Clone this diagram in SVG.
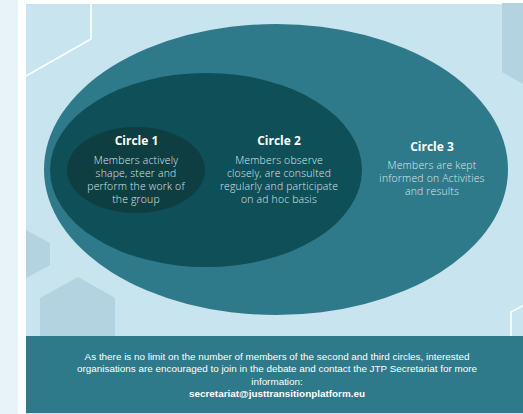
<svg xmlns="http://www.w3.org/2000/svg" width="523" height="414" viewBox="0 0 523 414">
<style>
.title{font-family:"Open Sans","Noto Sans",sans-serif;font-weight:700;font-size:12px;fill:#ffffff;text-anchor:middle}
.body{font-family:"Open Sans","Noto Sans",sans-serif;font-weight:300;font-size:10.4px;letter-spacing:0.2px;fill:#dfe8ea;text-anchor:middle}
.foot{font-family:"Liberation Sans",Arial,sans-serif;font-size:9.9px;fill:#ffffff;text-anchor:middle}
.hexfill{fill:#b2d3df}
.hexline{fill:none;stroke:#ffffff;stroke-width:1.5}
</style>
<rect x="0" y="0" width="523" height="414" fill="#ffffff"/>
<rect x="0" y="0" width="18" height="414" fill="#e8f3f9"/>
<g id="background">
<rect x="26" y="4" width="497" height="410" fill="#c8e4ee"/>
<path class="hexline" d="M91,4 V39 L26,76"/>
<path class="hexfill" d="M502,3 H523 V84 L502,72 Z"/>
<path class="hexfill" d="M26,230 L50,243 V265 L26,278 Z"/>
<path class="hexfill" d="M78,277 L115,298 V336 H40 V298 Z"/>
<path class="hexline" d="M511,336 V312 L524,305"/>
</g>
<g id="circle3">
<ellipse cx="276" cy="169.5" rx="232" ry="145.5" fill="#2e7a8a"/>
<text class="title" x="432" y="151">Circle 3</text>
<text class="body" x="432" y="169">Members are kept</text>
<text class="body" x="432" y="182">informed on Activities</text>
<text class="body" x="432" y="195">and results</text>
</g>
<g id="circle2">
<ellipse cx="206" cy="170" rx="156" ry="97" fill="#0f4f57"/>
<text class="title" x="279" y="145">Circle 2</text>
<text class="body" x="279" y="163.5">Members observe</text>
<text class="body" x="279" y="176.5">closely, are consulted</text>
<text class="body" x="279" y="189.5">regularly and participate</text>
<text class="body" x="279" y="202.5">on ad hoc basis</text>
</g>
<g id="circle1">
<ellipse cx="136" cy="170" rx="69" ry="43" fill="#0e3e41"/>
<text class="title" x="136.5" y="145">Circle 1</text>
<text class="body" x="136" y="163.5">Members actively</text>
<text class="body" x="136" y="176.5">shape, steer and</text>
<text class="body" x="136" y="189.5">perform the work of</text>
<text class="body" x="136" y="202.5">the group</text>
</g>
<g id="footer">
<rect x="26" y="336" width="497" height="77" fill="#2e7a8a"/>
<text class="foot" x="277" y="360">As there is no limit on the number of members of the second and third circles, interested</text>
<text class="foot" x="277" y="372">organisations are encouraged to join in the debate and contact the JTP Secretariat for more</text>
<text class="foot" x="277" y="385">information:</text>
<text class="foot" x="277" y="397" font-weight="700">secretariat@justtransitionplatform.eu</text>
</g>
<g id="connectors"/>
</svg>
